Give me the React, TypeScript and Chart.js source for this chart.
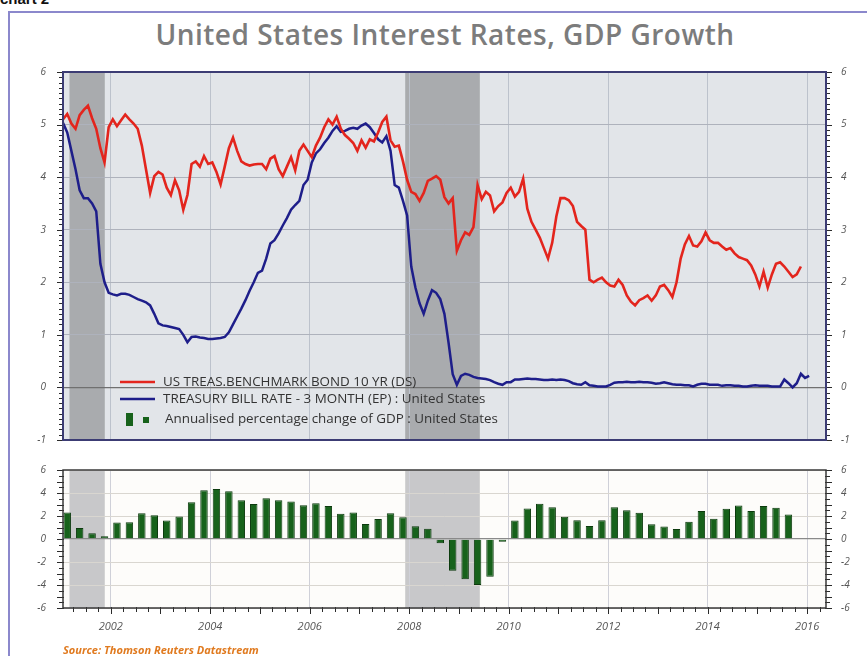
import React, { useEffect, useRef } from "react";
import { Chart, registerables } from "chart.js";

Chart.register(...registerables);

// ---------- DATA ----------
const TITLE = "United States Interest Rates, GDP Growth";
const SOURCE = "Source: Thomson Reuters Datastream";
const LEGEND_LABELS = [
  "US TREAS.BENCHMARK BOND 10 YR (DS)",
  "TREASURY BILL RATE - 3 MONTH (EP) : United States",
  "Annualised percentage change of GDP : United States",
];

// monthly, starting Jan 2001
const TEN_YEAR_START = 2001;
const tenYear = [
  5.1, 5.2, 5.02, 4.92, 5.18, 5.28, 5.36, 5.12, 4.92, 4.55, 4.28, 4.95,
  5.1, 4.97, 5.08, 5.19, 5.1, 5.02, 4.92, 4.6, 4.15, 3.7, 4.02, 4.1,
  4.05, 3.8, 3.66, 3.94, 3.75, 3.38, 3.66, 4.25, 4.3, 4.2, 4.4, 4.25,
  4.28, 4.1, 3.86, 4.2, 4.55, 4.75, 4.5, 4.3, 4.25, 4.22, 4.24, 4.25,
  4.25, 4.15, 4.35, 4.4, 4.15, 4.02, 4.2, 4.38, 4.13, 4.5, 4.62, 4.5,
  4.38, 4.6, 4.75, 4.95, 5.1, 5.0, 5.15, 4.92, 4.8, 4.73, 4.65, 4.5,
  4.7, 4.56, 4.72, 4.68, 4.85, 5.05, 5.15, 4.7, 4.58, 4.6, 4.3, 3.95,
  3.72, 3.68, 3.55, 3.7, 3.93, 3.97, 4.02, 3.95, 3.62, 3.5, 3.6, 2.6,
  2.8, 2.95, 2.9, 3.05, 3.85, 3.58, 3.72, 3.65, 3.35, 3.45, 3.52, 3.7,
  3.8, 3.63, 3.72, 3.97, 3.4, 3.15, 3.0, 2.85, 2.65, 2.45, 2.75, 3.25,
  3.6, 3.6, 3.56, 3.45, 3.15, 3.07, 3.0, 2.05, 2.0, 2.05, 2.09, 2.0,
  1.94, 1.92, 2.05, 1.95, 1.75, 1.63, 1.56, 1.66, 1.7, 1.75, 1.65, 1.75,
  1.92, 1.95, 1.85, 1.72, 2.0, 2.45, 2.72, 2.88, 2.7, 2.68, 2.78, 2.95,
  2.8, 2.75, 2.75, 2.68, 2.62, 2.65, 2.55, 2.48, 2.45, 2.42, 2.32, 2.15,
  1.92, 2.2, 1.9, 2.15, 2.35, 2.38, 2.3, 2.2, 2.1, 2.15, 2.3,
];

// monthly, starting Jan 2001
const BILL_START = 2001;
const billRate = [
  5.03, 4.85, 4.5, 4.15, 3.75, 3.6, 3.6, 3.5, 3.35, 2.35, 2.0, 1.8,
  1.77, 1.75, 1.78, 1.78, 1.76, 1.72, 1.68, 1.65, 1.62, 1.56, 1.4, 1.22,
  1.18, 1.17, 1.15, 1.13, 1.11, 1.0, 0.86, 0.96, 0.97, 0.95, 0.94, 0.92,
  0.92, 0.93, 0.94, 0.96, 1.05, 1.2, 1.35, 1.5, 1.66, 1.84, 2.0, 2.18,
  2.22, 2.45, 2.74, 2.8, 2.93, 3.08, 3.22, 3.38, 3.47, 3.55, 3.85, 3.95,
  4.28, 4.45, 4.53, 4.65, 4.75, 4.88, 4.97, 4.86, 4.88, 4.92, 4.94, 4.92,
  4.98, 5.02, 4.95, 4.84, 4.72, 4.66, 4.78, 4.5, 3.85, 3.8, 3.55, 3.27,
  2.3, 1.9, 1.6, 1.4, 1.65, 1.85, 1.8, 1.68, 1.4, 0.85, 0.25, 0.05,
  0.22, 0.26, 0.24, 0.2, 0.18, 0.17, 0.16, 0.14, 0.1, 0.07, 0.05, 0.1,
  0.1, 0.15, 0.15, 0.16, 0.17, 0.16, 0.16, 0.15, 0.14, 0.14, 0.15, 0.14,
  0.15, 0.14, 0.12, 0.08, 0.06, 0.05, 0.1, 0.04, 0.03, 0.02, 0.02, 0.02,
  0.05, 0.09, 0.1, 0.1, 0.11, 0.1, 0.1, 0.11, 0.1, 0.1, 0.09, 0.07,
  0.08, 0.1, 0.08, 0.06, 0.05, 0.05, 0.04, 0.04, 0.02, 0.05, 0.07, 0.07,
  0.05, 0.05, 0.05, 0.03, 0.04, 0.04, 0.03, 0.03, 0.02, 0.02, 0.03, 0.04,
  0.03, 0.03, 0.03, 0.02, 0.02, 0.02, 0.15, 0.08, 0.0, 0.08, 0.26, 0.18,
  0.22,
];

// quarterly, starting 2001 Q1
const GDP_START = 2001;
const gdpGrowth = [
  2.3, 0.95, 0.5, 0.25,
  1.43, 1.45, 2.25, 2.06,
  1.6, 1.95, 3.2, 4.25,
  4.35, 4.15, 3.37, 3.05,
  3.55, 3.37, 3.26, 2.94,
  3.1, 2.86, 2.2, 2.3,
  1.3, 1.75, 2.25, 1.9,
  1.1, 0.9, -0.37, -2.77,
  -3.5, -4.0, -3.29, -0.23,
  1.6, 2.66, 3.06, 2.77,
  1.94, 1.63, 1.14, 1.63,
  2.77, 2.51, 2.29, 1.29,
  1.09, 0.86, 1.49, 2.43,
  1.77, 2.63, 2.91, 2.43,
  2.86, 2.71, 2.14,
];

// recession periods (decimal years)
const recessionStart = [2001.17, 2007.92];
const recessionEnd = [2001.88, 2009.42];

const X_MIN = 2001.04;
const X_MAX = 2016.38;
const TOP_Y_MIN = -1;
const TOP_Y_MAX = 6;
const BOT_Y_MIN = -6;
const BOT_Y_MAX = 6;

// ---------- STYLE ----------
const RED = "#e3251d";
const BLUE = "#1e1e8a";
const GREEN = "#17621b";
const GREEN_EDGE = "#0c3a0e";
const TICK_FONT = { family: '"Open Sans", sans-serif', size: 10, style: "italic" as const };
const TICK_COLOR = "#555";

const monthly = (start: number, vals: number[]) =>
  vals.map((v, i) => ({ x: start + (i + 0.5) / 12, y: v }));
const quarterly = (start: number, vals: number[]) =>
  vals.map((v, i) => ({ x: start + (i + 0.5) / 4, y: v }));

const isInt = (v: number) => Math.abs(v - Math.round(v)) < 1e-6;

function makeShade(bg: string, shade: string) {
  return {
    id: "shade",
    beforeDraw(chart: any) {
      const { ctx, chartArea: a, scales } = chart;
      ctx.save();
      ctx.fillStyle = bg;
      ctx.fillRect(a.left, a.top, a.right - a.left, a.bottom - a.top);
      ctx.fillStyle = shade;
      recessionStart.forEach((s, i) => {
        const x1 = scales.x.getPixelForValue(s);
        const x2 = scales.x.getPixelForValue(recessionEnd[i]);
        ctx.fillRect(x1, a.top, x2 - x1, a.bottom - a.top);
      });
      ctx.restore();
    },
  };
}

function makeFrame(color: string, width: number, xTicks: boolean) {
  return {
    id: "frame",
    afterDraw(chart: any) {
      const { ctx, chartArea: a, scales } = chart;
      ctx.save();
      // tick marks on the axes
      ctx.strokeStyle = "#2b2b2b";
      ctx.lineWidth = 1;
      ctx.beginPath();
      scales.y.ticks.forEach((t: any) => {
        const py = Math.round(scales.y.getPixelForValue(t.value)) + 0.5;
        const len = isInt(t.value) ? 6 : 4;
        ctx.moveTo(a.left - len, py);
        ctx.lineTo(a.left + 1, py);
      });
      scales.y2.ticks.forEach((t: any) => {
        const py = Math.round(scales.y2.getPixelForValue(t.value)) + 0.5;
        const len = isInt(t.value) ? 6 : 4;
        ctx.moveTo(a.right - 1, py);
        ctx.lineTo(a.right + len, py);
      });
      if (xTicks) {
        scales.x.ticks.forEach((t: any) => {
          const px = Math.round(scales.x.getPixelForValue(t.value)) + 0.5;
          const len = isInt(t.value) ? 6 : 4;
          ctx.moveTo(px, a.bottom - 1);
          ctx.lineTo(px, a.bottom + len);
        });
      }
      ctx.stroke();
      ctx.strokeStyle = color;
      ctx.lineWidth = width;
      ctx.strokeRect(a.left, a.top, a.right - a.left, a.bottom - a.top);
      ctx.restore();
    },
  };
}

const legendPlugin = {
  id: "customLegend",
  afterDatasetsDraw(chart: any) {
    const { ctx, chartArea: a } = chart;
    const x0 = a.left + 57;
    const rows = [a.bottom - 58, a.bottom - 41, a.bottom - 21];
    ctx.save();
    ctx.font = '13.4px "Open Sans", sans-serif';
    ctx.textBaseline = "middle";
    chart.data.datasets.forEach((ds: any, i: number) => {
      ctx.strokeStyle = ds.borderColor;
      ctx.lineWidth = 2.5;
      ctx.beginPath();
      ctx.moveTo(x0, rows[i]);
      ctx.lineTo(x0 + 35, rows[i]);
      ctx.stroke();
      ctx.fillStyle = "#333";
      ctx.fillText(LEGEND_LABELS[i], x0 + 43, rows[i]);
    });
    ctx.fillStyle = GREEN;
    ctx.fillRect(x0 + 6, rows[2] - 6, 7, 13);
    ctx.fillRect(x0 + 23, rows[2] - 2, 6, 6);
    ctx.fillStyle = "#333";
    ctx.fillText(LEGEND_LABELS[2], x0 + 45, rows[2]);
    ctx.restore();
  },
};

function yAxis(pos: "left" | "right", min: number, max: number, step: number, labelEvery: number, onArea: boolean, gridColor: (v: number) => string, width: number, pad: number) {
  return {
    type: "linear" as const,
    position: pos,
    min,
    max,
    afterFit: (s: any) => {
      s.width = width;
    },
    border: { display: false },
    grid: {
      drawOnChartArea: onArea,
      color: (c: any) => gridColor(c.tick ? c.tick.value : 0),
      lineWidth: (c: any) => (c.tick && isInt(c.tick.value) && Math.round(c.tick.value) === 0 ? 1.3 : 1),
      drawTicks: true,
      tickColor: "rgba(0,0,0,0)",
      tickLength: 5,
    },
    ticks: {
      stepSize: step,
      autoSkip: false,
      padding: pad,
      color: TICK_COLOR,
      font: TICK_FONT,
      callback: (v: any) => {
        const n = Number(v);
        return isInt(n / labelEvery) ? String(Math.round(n)) : "";
      },
    },
  };
}

export default function App() {
  const topRef = useRef<HTMLCanvasElement>(null);
  const botRef = useRef<HTMLCanvasElement>(null);

  useEffect(() => {
    const topGrid = (v: number) =>
      isInt(v) ? (Math.round(v) === 0 ? "#707070" : "#aeb2bc") : "rgba(0,0,0,0)";
    const botGrid = (v: number) =>
      isInt(v) && Math.round(v) % 2 === 0
        ? Math.round(v) === 0
          ? "#8a8a8a"
          : "#d9d6d0"
        : "rgba(0,0,0,0)";

    const top = new Chart(topRef.current!, {
      type: "line",
      data: {
        datasets: [
          {
            label: LEGEND_LABELS[0],
            data: monthly(TEN_YEAR_START, tenYear),
            borderColor: RED,
            borderWidth: 2.6,
            pointRadius: 0,
            tension: 0,
          },
          {
            label: LEGEND_LABELS[1],
            data: monthly(BILL_START, billRate),
            borderColor: BLUE,
            borderWidth: 2.5,
            pointRadius: 0,
            tension: 0,
          },
        ],
      },
      options: {
        responsive: false,
        animation: false,
        devicePixelRatio: 1,
        layout: { padding: { top: 72, bottom: 216, left: 0, right: 0 } },
        plugins: { legend: { display: false }, tooltip: { enabled: false } },
        scales: {
          x: {
            type: "linear",
            min: X_MIN,
            max: X_MAX,
            afterFit: (s: any) => {
              s.height = 0;
            },
            border: { display: false },
            grid: { color: "#bcc2cc", drawTicks: false },
            ticks: { display: false, stepSize: 2, includeBounds: false },
          },
          y: yAxis("left", TOP_Y_MIN, TOP_Y_MAX, 0.1, 1, true, topGrid, 63, 12),
          y2: yAxis("right", TOP_Y_MIN, TOP_Y_MAX, 0.1, 1, false, topGrid, 41, 10),
        } as any,
      },
      plugins: [makeShade("#e2e5e9", "#a9abae"), makeFrame("#3c3c74", 2, false), legendPlugin],
    });

    const bot = new Chart(botRef.current!, {
      type: "bar",
      data: {
        datasets: [
          {
            label: LEGEND_LABELS[2],
            data: quarterly(GDP_START, gdpGrowth) as any,
            backgroundColor: GREEN,
            borderColor: GREEN_EDGE,
            borderWidth: 1,
            barPercentage: 0.6,
            categoryPercentage: 1,
          },
        ],
      },
      options: {
        responsive: false,
        animation: false,
        devicePixelRatio: 1,
        layout: { padding: { top: 470, bottom: 8, left: 0, right: 0 } },
        plugins: { legend: { display: false }, tooltip: { enabled: false } },
        scales: {
          x: {
            type: "linear",
            min: X_MIN,
            max: X_MAX,
            offset: false,
            afterFit: (s: any) => {
              s.height = 40;
            },
            border: { display: false },
            grid: {
              offset: false,
              color: (c: any) =>
                c.tick && isInt(c.tick.value) && Math.round(c.tick.value) % 2 === 0
                  ? "#cfd0d8"
                  : "rgba(0,0,0,0)",
              tickColor: "rgba(0,0,0,0)",
              tickLength: 5,
            },
            ticks: {
              stepSize: 0.25,
              includeBounds: false,
              autoSkip: false,
              maxRotation: 0,
              padding: 7,
              color: TICK_COLOR,
              font: { ...TICK_FONT, size: 11 },
              callback: (v: any) => {
                const n = Number(v);
                return isInt(n) && Math.round(n) % 2 === 0 ? String(Math.round(n)) : "";
              },
            },
          },
          y: yAxis("left", BOT_Y_MIN, BOT_Y_MAX, 0.5, 2, true, botGrid, 63, 12),
          y2: yAxis("right", BOT_Y_MIN, BOT_Y_MAX, 0.5, 2, false, botGrid, 41, 10),
        } as any,
      },
      plugins: [makeShade("#fdfcfa", "#c8c8ca"), makeFrame("#3a3a3a", 1.5, true)],
    });

    return () => {
      top.destroy();
      bot.destroy();
    };
  }, []);

  return (
    <div
      style={{
        position: "fixed",
        left: 0,
        top: 0,
        width: 867,
        height: 656,
        overflow: "hidden",
        background: "#fff",
      }}
    >
      <div
        style={{
          position: "absolute",
          left: 0,
          top: -9,
          font: 'bold 15px "Liberation Sans", Arial, sans-serif',
          color: "#111",
          lineHeight: "15px",
        }}
      >
        chart 2
      </div>
      <div
        style={{
          position: "absolute",
          left: 8,
          top: 11,
          width: 900,
          height: 700,
          border: "2px solid #8b88cc",
          boxSizing: "border-box",
        }}
      />
      <div
        style={{
          position: "absolute",
          left: 0,
          top: 20,
          width: 890,
          textAlign: "center",
          font: '600 28px "Open Sans", sans-serif',
          letterSpacing: "0.5px",
          lineHeight: "28px",
          color: "#7c7c7c",
        }}
      >
        {TITLE}
      </div>
      <canvas ref={topRef} width={867} height={656} style={{ position: "absolute", left: 0, top: 0 }} />
      <canvas ref={botRef} width={867} height={656} style={{ position: "absolute", left: 0, top: 0 }} />
      <div
        style={{
          position: "absolute",
          left: 63,
          top: 643,
          font: 'italic bold 11px "Open Sans", sans-serif',
          lineHeight: "14px",
          color: "#e07a1f",
        }}
      >
        {SOURCE}
      </div>
    </div>
  );
}
